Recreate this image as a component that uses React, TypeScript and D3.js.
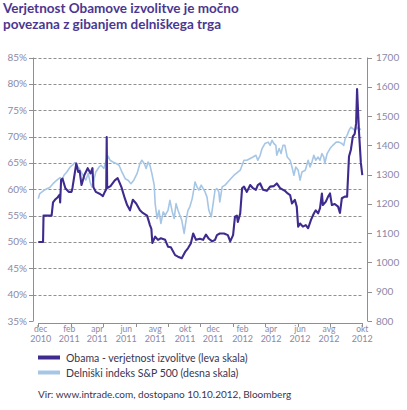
import React from "react";
import * as d3 from "d3";

const titleLines = ["Verjetnost Obamove izvolitve je močno", "povezana z gibanjem delniškega trga"];

const obamaDates = ["2010-11-28","2010-12-08","2010-12-09","2010-12-26","2010-12-29","2011-01-02","2011-01-08","2011-01-12","2011-01-13","2011-01-15","2011-01-18","2011-01-24","2011-01-31","2011-02-06","2011-02-08","2011-02-16","2011-02-20","2011-02-23","2011-02-27","2011-03-05","2011-03-12","2011-03-18","2011-03-22","2011-03-24","2011-03-29","2011-04-07","2011-04-13","2011-04-17","2011-04-20","2011-04-21","2011-04-22","2011-04-29","2011-05-08","2011-05-14","2011-05-22","2011-05-29","2011-06-03","2011-06-09","2011-06-15","2011-06-22","2011-06-30","2011-07-06","2011-07-15","2011-07-21","2011-07-24","2011-07-26","2011-08-01","2011-08-07","2011-08-13","2011-08-22","2011-08-28","2011-09-03","2011-09-12","2011-09-18","2011-09-26","2011-10-03","2011-10-09","2011-10-15","2011-10-20","2011-10-26","2011-11-03","2011-11-10","2011-11-16","2011-11-22","2011-11-29","2011-12-05","2011-12-09","2011-12-15","2011-12-24","2012-01-01","2012-01-06","2012-01-12","2012-01-16","2012-01-20","2012-01-22","2012-01-27","2012-01-31","2012-02-04","2012-02-10","2012-02-17","2012-02-23","2012-02-29","2012-03-04","2012-03-09","2012-03-15","2012-03-23","2012-03-30","2012-04-07","2012-04-13","2012-04-20","2012-04-30","2012-05-06","2012-05-11","2012-05-15","2012-05-21","2012-05-25","2012-05-28","2012-06-01","2012-06-07","2012-06-13","2012-06-18","2012-06-24","2012-06-30","2012-07-04","2012-07-09","2012-07-13","2012-07-17","2012-07-19","2012-07-25","2012-07-30","2012-08-03","2012-08-07","2012-08-13","2012-08-20","2012-08-24","2012-08-28","2012-09-03","2012-09-08","2012-09-12","2012-09-16","2012-09-20","2012-09-24","2012-09-27","2012-09-29","2012-10-01","2012-10-03","2012-10-05","2012-10-07","2012-10-10"];
const obamaValues = [50,50,55,55,57.5,58,58.5,59,57.5,61.8,62,60.2,59.5,59.5,60.3,64.9,63.3,63.5,60.8,62.7,64,63,64,60.4,59.5,59.1,58.7,59.5,60,69.9,60.2,60.6,61.7,62.1,60.4,58.3,57,56,58,57.3,56,55.5,55,53.2,52.5,49.8,51,50.4,50.7,50.4,49.1,49,47.5,47.2,46.9,48.1,48.8,49.7,51.6,50.4,50.6,50.4,51.4,50.6,50.1,50.4,51.3,51.6,51.6,51.3,50.1,51.3,54.8,55,53.8,55.4,60.2,60.5,59.5,60.8,60.2,59.9,60.8,61.1,59.9,59.7,60.5,60.6,61.1,60.2,59.7,59.2,58.9,57.3,58,56.7,52.9,53.5,52.9,53.2,52.6,54.2,55.4,56,55.4,56.4,59.2,57,57.6,58.6,59.2,57,57.2,56.7,55.5,58.3,58.6,58.6,66.2,67.5,70,70.5,72.5,79,75,71,68,65,62.7];

const spDates = ["2010-11-28","2010-12-01","2010-12-08","2010-12-16","2010-12-22","2010-12-29","2011-01-06","2011-01-13","2011-01-17","2011-01-21","2011-01-27","2011-02-03","2011-02-09","2011-02-13","2011-02-17","2011-02-22","2011-02-26","2011-03-04","2011-03-08","2011-03-13","2011-03-17","2011-03-21","2011-03-25","2011-03-29","2011-04-05","2011-04-09","2011-04-15","2011-04-20","2011-04-24","2011-04-28","2011-05-04","2011-05-11","2011-05-17","2011-05-23","2011-05-30","2011-06-05","2011-06-11","2011-06-17","2011-06-24","2011-06-30","2011-07-04","2011-07-09","2011-07-13","2011-07-17","2011-07-21","2011-07-25","2011-07-30","2011-08-01","2011-08-05","2011-08-09","2011-08-13","2011-08-18","2011-08-22","2011-08-28","2011-09-01","2011-09-06","2011-09-10","2011-09-14","2011-09-18","2011-09-22","2011-09-26","2011-10-01","2011-10-05","2011-10-09","2011-10-13","2011-10-18","2011-10-24","2011-10-28","2011-11-01","2011-11-06","2011-11-10","2011-11-14","2011-11-18","2011-11-22","2011-11-27","2011-12-01","2011-12-05","2011-12-09","2011-12-13","2011-12-15","2011-12-20","2011-12-26","2012-01-01","2012-01-07","2012-01-14","2012-01-20","2012-01-27","2012-01-31","2012-02-04","2012-02-10","2012-02-17","2012-02-23","2012-02-29","2012-03-04","2012-03-09","2012-03-13","2012-03-19","2012-03-26","2012-03-30","2012-04-03","2012-04-07","2012-04-11","2012-04-13","2012-04-18","2012-04-22","2012-04-26","2012-04-30","2012-05-05","2012-05-11","2012-05-15","2012-05-19","2012-05-23","2012-05-28","2012-06-01","2012-06-05","2012-06-12","2012-06-18","2012-06-22","2012-06-26","2012-06-30","2012-07-04","2012-07-09","2012-07-13","2012-07-17","2012-07-21","2012-07-23","2012-07-28","2012-08-03","2012-08-09","2012-08-16","2012-08-22","2012-08-28","2012-09-01","2012-09-04","2012-09-08","2012-09-12","2012-09-16","2012-09-20","2012-09-24","2012-09-29","2012-10-03","2012-10-07"];
const spValues = [1218,1235,1244,1252,1256,1269,1281,1290,1281,1298,1309,1326,1334,1341,1332,1321,1309,1292,1281,1304,1275,1258,1281,1309,1326,1332,1321,1349,1363,1349,1343,1338,1332,1309,1286,1281,1269,1281,1304,1338,1349,1338,1321,1343,1332,1304,1264,1201,1150,1178,1133,1173,1161,1178,1212,1173,1150,1201,1178,1161,1144,1099,1144,1178,1190,1218,1275,1258,1247,1264,1252,1241,1224,1178,1156,1201,1247,1252,1241,1207,1258,1264,1275,1286,1298,1306,1315,1332,1349,1349,1355,1360,1366,1349,1366,1389,1406,1411,1400,1417,1406,1400,1366,1389,1372,1400,1400,1360,1349,1326,1298,1326,1315,1281,1309,1315,1349,1326,1343,1366,1349,1360,1349,1372,1360,1338,1372,1389,1400,1411,1411,1406,1400,1423,1434,1451,1462,1457,1451,1462,1451,1457];

const leftTicks = [35, 40, 45, 50, 55, 60, 65, 70, 75, 80, 85];
const rightTicks = [800, 900, 1000, 1100, 1200, 1300, 1400, 1500, 1600, 1700];
const monthLabels = ["dec","feb","apr","jun","avg","okt","dec","feb","apr","jun","avg","okt"];
const yearLabels = ["2010","2011","2011","2011","2011","2011","2011","2012","2012","2012","2012","2012"];
const labelDates = ["2010-12-03","2011-02-01","2011-04-01","2011-06-01","2011-08-01","2011-10-03","2011-12-01","2012-02-01","2012-04-01","2012-06-01","2012-08-01","2012-10-10"];
const legendLabels = ["Obama -  verjetnost izvolitve (leva skala)", "Delniški indeks S&P 500 (desna skala)"];
const sourceText = "Vir: www.intrade.com, dostopano 10.10.2012, Bloomberg";

const PURPLE = "#3f2a8e";
const LIGHT = "#a6c6e6";
const GRID = "#8f8f8f";
const TICKTXT = "#8d88a6";
const FONT = "Lato, 'Open Sans', sans-serif";

export default function App() {
  const parse = d3.timeParse("%Y-%m-%d");
  const x = d3.scaleTime().domain([parse("2010-11-28")!, parse("2012-10-10")!]).range([38.3, 362.3]);
  const yL = d3.scaleLinear().domain([35, 85]).range([321, 57.5]);
  const yR = d3.scaleLinear().domain([800, 1700]).range([321, 57.5]);
  const tickIdx = d3.scaleLinear().domain([0, 10]).range([38.3, 362.3]);

  const obama = obamaDates.map((d, i) => ({ d: parse(d)!, v: obamaValues[i] }));
  const sp = spDates.map((d, i) => ({ d: parse(d)!, v: spValues[i] }));

  const lineO = d3.line<{ d: Date; v: number }>().x(p => x(p.d)).y(p => yL(p.v));
  const lineS = d3.line<{ d: Date; v: number }>().x(p => x(p.d)).y(p => yR(p.v));

  const axisY = 323;

  return (
    <svg width={407} height={410} style={{ position: "absolute", left: 0, top: 0, background: "#fff" }} fontFamily={FONT}>
      {titleLines.map((t, i) => (
        <text key={i} x={3} y={12.5 + i * 16.4} fontSize={13.5} fontWeight={700} fill="#4b3790">{t}</text>
      ))}
      {leftTicks.filter(t => t > 35).map(t => (
        <line key={t} x1={33.5} x2={363} y1={Math.round(yL(t)) + 0.5} y2={Math.round(yL(t)) + 0.5} stroke={GRID} strokeDasharray="3,2" strokeWidth={1} />
      ))}
      <line x1={33.5} x2={33.5} y1={yL(85)} y2={yL(35)} stroke={GRID} />
      {leftTicks.map(t => (
        <g key={t}>
          <line x1={29} x2={33.5} y1={Math.round(yL(t)) + 0.5} y2={Math.round(yL(t)) + 0.5} stroke={GRID} />
          <text x={27} y={yL(t) + 3.5} textAnchor="end" fontSize={10} fill={TICKTXT}>{t}%</text>
        </g>
      ))}
      <line x1={367.5} x2={367.5} y1={yR(1700)} y2={yR(800)} stroke={GRID} />
      {rightTicks.map(t => (
        <g key={t}>
          <line x1={367.5} x2={372} y1={Math.round(yR(t)) + 0.5} y2={Math.round(yR(t)) + 0.5} stroke={GRID} />
          <text x={376} y={yR(t) + 3.5} fontSize={10} fill={TICKTXT}>{t}</text>
        </g>
      ))}
      <line x1={38.3} x2={362.3} y1={axisY + 0.5} y2={axisY + 0.5} stroke={GRID} />
      {d3.range(11).map(i => (
        <line key={i} x1={Math.round(tickIdx(i)) + 0.5} x2={Math.round(tickIdx(i)) + 0.5} y1={axisY} y2={axisY + 4} stroke={GRID} />
      ))}
      {labelDates.map((d, i) => (
        <g key={i}>
          <text x={x(parse(d)!)} y={332} textAnchor="middle" fontSize={8.5} fill={TICKTXT}>{monthLabels[i]}</text>
          <text x={x(parse(d)!)} y={342} textAnchor="middle" fontSize={9} fill={TICKTXT}>{yearLabels[i]}</text>
        </g>
      ))}
      <path d={lineS(sp)!} fill="none" stroke={LIGHT} strokeWidth={1.6} strokeLinejoin="round" />
      <path d={lineO(obama)!} fill="none" stroke={PURPLE} strokeWidth={2.1} strokeLinejoin="round" />
      <line x1={38} x2={60} y1={357.5} y2={357.5} stroke={PURPLE} strokeWidth={4} />
      <text x={66} y={361.5} fontSize={10.5} fill="#3a3550">{legendLabels[0]}</text>
      <line x1={38} x2={60} y1={372.5} y2={372.5} stroke={LIGHT} strokeWidth={4} />
      <text x={66} y={376.5} fontSize={10.5} fill="#3a3550">{legendLabels[1]}</text>
      <text x={38} y={398} fontSize={10} fill="#3a3550">{sourceText}</text>
    </svg>
  );
}
